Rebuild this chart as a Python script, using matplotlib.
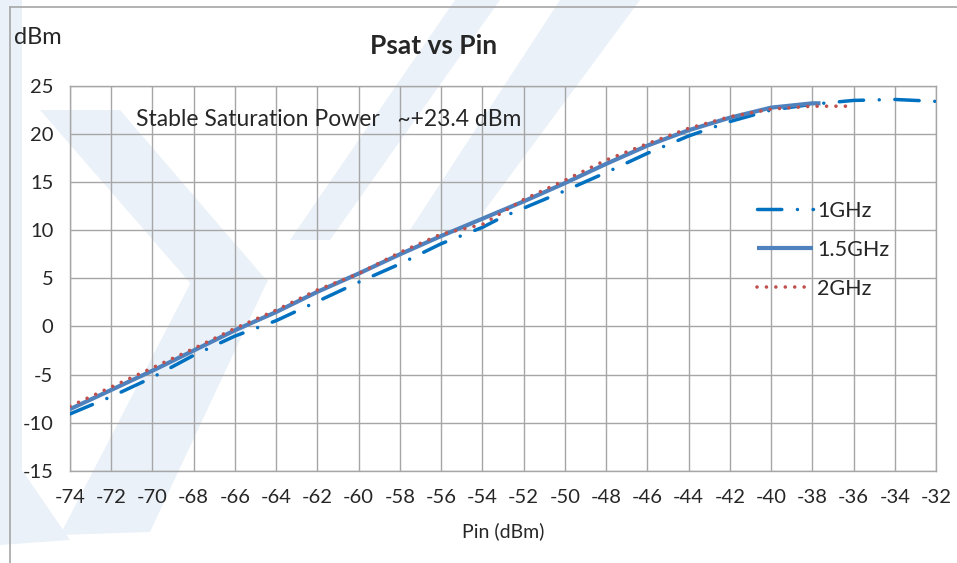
import matplotlib
matplotlib.use("Agg")
import matplotlib.pyplot as plt
from matplotlib.patches import Polygon
from matplotlib.lines import Line2D

plt.rcParams['font.family'] = ['Lato', 'DejaVu Sans']
plt.rcParams['axes.unicode_minus'] = False

# Psat vs Pin data (dBm)
pin_1ghz = [-74, -72, -70, -68, -66, -64, -62, -60, -58, -56, -54, -53, -52, -51, -50, -48,
            -46, -44, -42, -40, -38, -36, -34, -32]
psat_1ghz = [-9.1, -7.3, -5.3, -3.0, -1.0, 0.6, 2.6, 4.6, 6.5, 8.6, 10.3, 11.4, 12.3, 13.2, 14.1, 16.0,
             18.0, 19.8, 21.3, 22.5, 23.1, 23.5, 23.6, 23.4]

pin_15ghz = [-74, -72, -70, -68, -66, -64, -62, -60, -58, -56, -54, -52, -50, -48,
             -46, -44, -42, -40, -38, -37.6]
psat_15ghz = [-8.6, -6.6, -4.6, -2.5, -0.4, 1.5, 3.6, 5.5, 7.5, 9.4, 11.2, 13.0, 14.9, 16.9,
              18.8, 20.4, 21.7, 22.75, 23.2, 23.2]

pin_2ghz = [-74, -72, -70, -68, -66, -64, -62, -60, -58, -56, -55, -54, -53, -52, -50,
            -48, -46, -44, -42, -40, -38, -36.3]
psat_2ghz = [-8.3, -6.3, -4.3, -2.3, -0.2, 1.7, 3.8, 5.5, 7.7, 9.6, 10.1, 10.6, 11.9, 13.2, 15.2,
             17.3, 19.0, 20.6, 21.8, 22.6, 22.9, 22.9]

x_ticks = list(range(-74, -31, 2))
y_ticks = list(range(-15, 26, 5))

W, H = 957, 563
fig = plt.figure(figsize=(W / 100, H / 100), dpi=100)


def px(x, y):
    # pixel coords (top-left origin) -> figure fraction
    return (x / W, 1 - y / H)


# faint watermark shapes behind the chart
wm_color = '#EAF1F8'
wm_shapes = [
    [(0, 0), (22, 0), (22, 470), (70, 540), (0, 545)],
    [(40, 110), (120, 110), (268, 282), (205, 300)],
    [(205, 255), (268, 280), (150, 532), (60, 535)],
    [(455, 0), (500, 0), (330, 240), (290, 240)],
    [(560, 0), (640, 0), (470, 230), (410, 230)],
]
for pts in wm_shapes:
    fig.patches.append(Polygon([px(*p) for p in pts], closed=True,
                               transform=fig.transFigure, facecolor=wm_color,
                               edgecolor='none', zorder=0))

# outer chart frame (top and left only are visible)
frame_col = '#A6A6A6'
fig.add_artist(Line2D([10 / W, 1], [1 - 7 / H, 1 - 7 / H], color=frame_col, lw=1.2))
fig.add_artist(Line2D([10 / W, 10 / W], [0, 1 - 7 / H], color=frame_col, lw=1.2))

ax = fig.add_axes([70 / W, 1 - 470.7 / H, 866 / W, 384.7 / H])
ax.set_facecolor('none')
ax.set_zorder(2)

ax.plot(pin_1ghz, psat_1ghz, color='#0070C0', lw=2.5, label='1GHz',
        linestyle=(0, (7, 4.5, 0.01, 4.5)), dash_capstyle='round', zorder=3)
ax.plot(pin_15ghz, psat_15ghz, color='#4F81BD', lw=3.0, label='1.5GHz',
        solid_capstyle='butt', zorder=4)
ax.plot(pin_2ghz, psat_2ghz, color='#C0504D', lw=2.6, label='2GHz',
        linestyle=(0, (0.01, 2.6)), dash_capstyle='round', zorder=5)

ax.set_xlim(-74, -32)
ax.set_ylim(-15, 25)
ax.set_xticks(x_ticks)
ax.set_yticks(y_ticks)
ax.grid(True, color='#A6A6A6', lw=1.0)
ax.set_axisbelow(True)
for s in ax.spines.values():
    s.set_color('#A6A6A6')
    s.set_linewidth(1.0)
ax.tick_params(length=0, labelsize=14.5, colors='#262626')
ax.tick_params(axis='y', pad=12)
ax.tick_params(axis='x', pad=13)

ax.set_xlabel('Pin (dBm)', fontsize=14, color='#262626', labelpad=12)

fig.text(14 / W, 1 - 37 / H, 'dBm', fontsize=17, color='#262626', va='center', ha='left')
fig.text(434 / W, 1 - 46 / H, 'Psat vs Pin', fontsize=19, fontweight='bold',
         color='#262626', ha='center', va='center')
fig.text(136 / W, 1 - 119 / H, 'Stable Saturation Power   ~+23.4 dBm',
         fontsize=16.5, color='#262626', va='center', ha='left', zorder=3)

leg = ax.legend(loc='upper left', bbox_to_anchor=((757 - 70) / 866, (470.7 - 201) / 384.7),
                frameon=False, fontsize=15.5, handlelength=2.6, handletextpad=0.2,
                labelspacing=0.88, borderpad=0, borderaxespad=0)
for t in leg.get_texts():
    t.set_color('#262626')

fig.savefig('out.png', dpi=100)
